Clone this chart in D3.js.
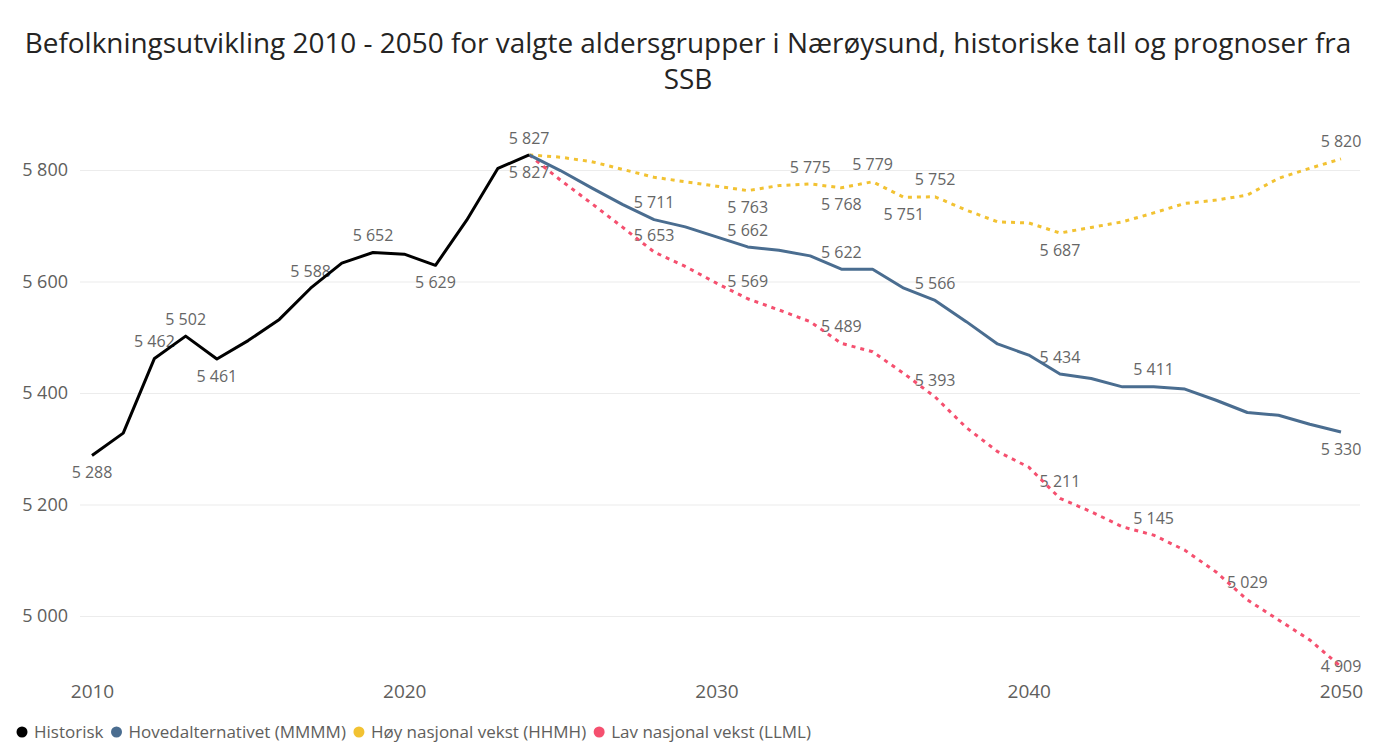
<!DOCTYPE html>
<html>
<head>
<meta charset="utf-8">
<script src="https://cdn.jsdelivr.net/npm/d3@7"></script>
<style>
  html, body { margin: 0; padding: 0; background: #ffffff; }
  svg { display: block; }
  text { font-family: "Open Sans", "Noto Sans", sans-serif; }
</style>
</head>
<body>
<svg id="chart" width="1376" height="742"></svg>
<script>
// ---------- data ----------
const titleLines = ["Befolkningsutvikling 2010 - 2050 for valgte aldersgrupper i Nærøysund, historiske tall og prognoser fra", "SSB"];

const histYears = [2010, 2011, 2012, 2013, 2014, 2015, 2016, 2017, 2018, 2019, 2020, 2021, 2022, 2023, 2024];
const histValues = [5288, 5328, 5462, 5502, 5461, 5494, 5532, 5588, 5633, 5652, 5649, 5629, 5710, 5803, 5827];

const progYears = [2024, 2025, 2026, 2027, 2028, 2029, 2030, 2031, 2032, 2033, 2034, 2035, 2036, 2037,
                   2038, 2039, 2040, 2041, 2042, 2043, 2044, 2045, 2046, 2047, 2048, 2049, 2050];
const mainValues = [5827, 5799, 5768, 5738, 5711, 5698, 5680, 5662, 5656, 5646, 5622, 5622, 5588, 5566,
                    5528, 5488, 5468, 5434, 5426, 5411, 5411, 5407, 5387, 5365, 5360, 5344, 5330];
const highValues = [5827, 5823, 5815, 5801, 5787, 5779, 5771, 5763, 5772, 5775, 5768, 5779, 5751, 5752,
                    5728, 5707, 5705, 5687, 5697, 5707, 5723, 5740, 5746, 5755, 5785, 5803, 5820];
const lowValues  = [5827, 5782, 5740, 5697, 5653, 5627, 5597, 5569, 5549, 5528, 5489, 5474, 5435, 5393,
                    5338, 5295, 5267, 5211, 5187, 5160, 5145, 5118, 5079, 5029, 4993, 4957, 4909];

const seriesNames = ["Historisk", "Hovedalternativet (MMMM)", "Høy nasjonal vekst (HHMH)", "Lav nasjonal vekst (LLML)"];

// labelled years per series and whether the label sits above (1) or below (-1)
const histLabelYears = [2010, 2012, 2013, 2014, 2017, 2019, 2021, 2024];
const histLabelSide  = [-1, 1, 1, -1, 1, 1, -1, 1];
const mainLabelYears = [2024, 2028, 2031, 2034, 2037, 2041, 2044, 2050];
const mainLabelSide  = [-1, 1, 1, 1, 1, 1, 1, -1];
const highLabelYears = [2031, 2033, 2034, 2035, 2036, 2037, 2041, 2050];
const highLabelSide  = [-1, 1, -1, 1, -1, 1, -1, 1];
const lowLabelYears  = [2028, 2031, 2034, 2037, 2041, 2044, 2047, 2050];
const lowLabelSide   = [1, 1, 1, 1, 1, 1, 1, 0];

const yTicks = [5000, 5200, 5400, 5600, 5800];
const xTicks = [2010, 2020, 2030, 2040, 2050];

// ---------- setup ----------
const colors = ["#000000", "#4a6d90", "#f2c232", "#f5506f"];
const svg = d3.select("#chart");
const W = 1376, H = 742;

const nf = d3.formatLocale({decimal: ",", thousands: " ", grouping: [3], currency: ["", ""]}).format(",d");

const x = d3.scaleLinear().domain([2010, 2050]).range([92, 1341]);
const y = d3.scaleLinear().domain([5000, 5800]).range([616, 170]);

// title
const titleG = svg.append("g");
const t1 = titleG.append("text").attr("x", W / 2).attr("y", 53).attr("text-anchor", "middle")
  .attr("fill", "#252423").style("font-size", "24px").text(titleLines[0]);
const len = t1.node().getComputedTextLength();
const fs = 24 * 1327 / len;
t1.style("font-size", fs + "px");
titleG.append("text").attr("x", W / 2).attr("y", 89).attr("text-anchor", "middle")
  .attr("fill", "#252423").style("font-size", fs + "px").text(titleLines[1]);

// gridlines + axes
const yAxis = d3.axisLeft(y).tickValues(yTicks).tickFormat(nf).tickSize(-(1360 - 80)).tickPadding(12);
const gy = svg.append("g").attr("transform", "translate(80,0)").call(yAxis);
gy.select(".domain").remove();
gy.selectAll(".tick line").attr("stroke", "#ececec").attr("stroke-width", 1.2);
gy.selectAll(".tick text").attr("fill", "#605e5c").style("font-size", "18px")
  .style("font-family", "'Open Sans', sans-serif");

const xAxis = d3.axisBottom(x).tickValues(xTicks).tickFormat(d3.format("d")).tickSize(0).tickPadding(0);
const gx = svg.append("g").attr("transform", "translate(0,680)").call(xAxis);
gx.select(".domain").remove();
gx.selectAll(".tick text").attr("fill", "#605e5c").style("font-size", "19px")
  .style("font-family", "'Open Sans', sans-serif").attr("dy", "0.32em").attr("y", 12);

// ---------- labels (drawn before lines) ----------
function addLabels(years, values, labelYears, sides) {
  const g = svg.append("g");
  labelYears.forEach((yr, i) => {
    const idx = years.indexOf(yr);
    const v = values[idx];
    const s = sides[i];
    g.append("text")
      .attr("x", x(yr))
      .attr("y", y(v) - s * 17)
      .attr("dy", "0.35em")
      .attr("text-anchor", "middle")
      .attr("fill", "#666666")
      .style("font-size", "16px")
      .text(nf(v));
  });
}
addLabels(histYears, histValues, histLabelYears, histLabelSide);
addLabels(progYears, mainValues, mainLabelYears, mainLabelSide);
addLabels(progYears, highValues, highLabelYears, highLabelSide);
addLabels(progYears, lowValues, lowLabelYears, lowLabelSide);

// ---------- lines ----------
const line = d3.line().x(d => x(d[0])).y(d => y(d[1]));
function drawLine(years, values, color, dashed) {
  const p = svg.append("path")
    .datum(years.map((yr, i) => [yr, values[i]]))
    .attr("d", line)
    .attr("fill", "none")
    .attr("stroke", color)
    .attr("stroke-width", 3)
    .attr("stroke-linejoin", "round");
  if (dashed) p.attr("stroke-dasharray", "4,5");
}
drawLine(progYears, lowValues, colors[3], true);
drawLine(progYears, highValues, colors[2], true);
drawLine(progYears, mainValues, colors[1], false);
drawLine(histYears, histValues, colors[0], false);

// ---------- legend ----------
const legend = svg.append("g").attr("transform", "translate(0,732)");
let lx = 22;
seriesNames.forEach((name, i) => {
  legend.append("circle").attr("cx", lx).attr("cy", 0).attr("r", 5.5).attr("fill", colors[i]);
  const t = legend.append("text").attr("x", lx + 12).attr("y", 0).attr("dy", "0.35em")
    .attr("fill", "#605e5c").style("font-size", "17px").text(name);
  lx += 12 + t.node().getComputedTextLength() + 13;
});
</script>
</body>
</html>
